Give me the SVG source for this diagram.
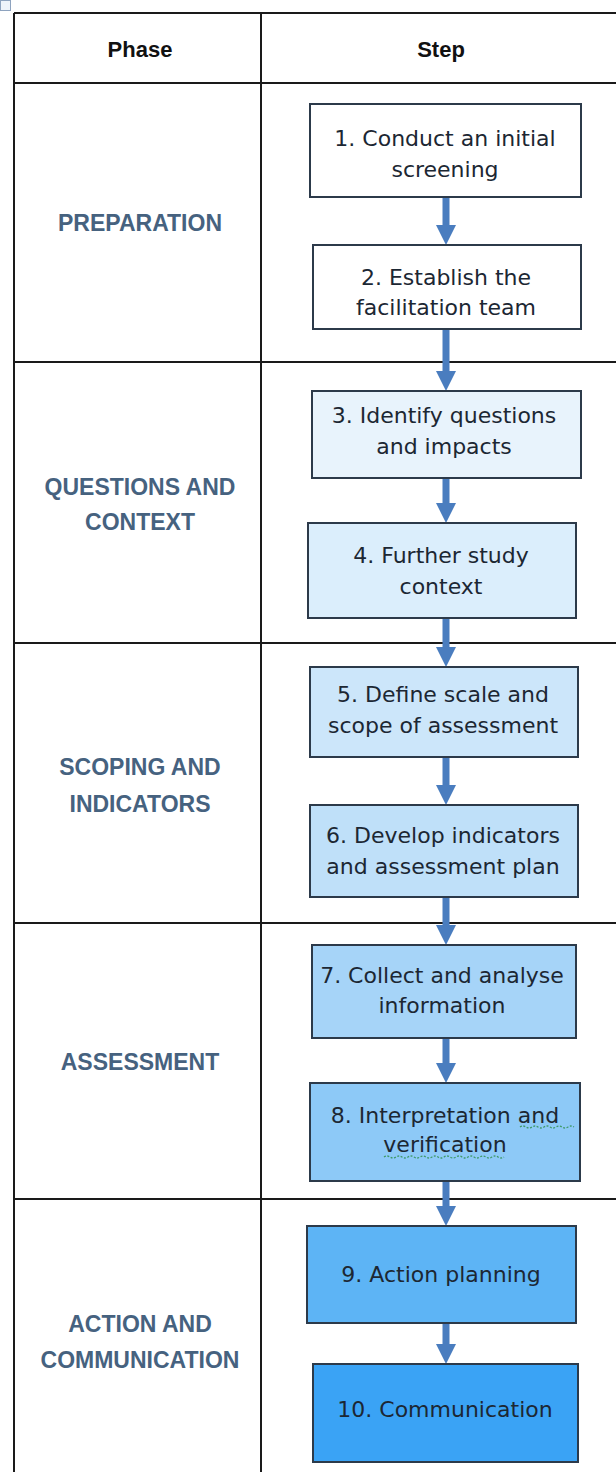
<svg xmlns="http://www.w3.org/2000/svg" width="616" height="1472" viewBox="0 0 616 1472">
  <style>
    .grid { stroke: #1a1a1a; stroke-width: 2; fill: none; }
    .hdr { font-family: "Liberation Sans", Arial, sans-serif; font-weight: bold; font-size: 22px; fill: #111111; text-anchor: middle; }
    .phase { font-family: "Liberation Sans", Arial, sans-serif; font-weight: bold; font-size: 23px; fill: #46627f; text-anchor: middle; }
    .box { stroke: #2c3a4a; stroke-width: 2; }
    .lbl { font-family: "DejaVu Sans", Verdana, sans-serif; font-size: 22px; fill: #1c2733; text-anchor: middle; }
    .conn { stroke: #4a7dbf; stroke-width: 7; fill: none; }
    .squig { stroke: #3f9a6a; stroke-width: 1.3; fill: none; stroke-dasharray: 2 1.5; }
  </style>
  <defs>
    <marker id="ah" markerUnits="userSpaceOnUse" markerWidth="20" markerHeight="20" refX="1" refY="10" orient="auto">
      <path d="M0,0 L20,10 L0,20 z" fill="#4a7dbf"/>
    </marker>
  </defs>
  <rect x="0" y="0" width="616" height="1472" fill="#ffffff"/>

  <g id="move-handle">
    <rect x="0.5" y="0.5" width="10" height="10" fill="#eef3fa" stroke="#8ea3bf" stroke-width="1"/>
  </g>

  <g id="table">
    <path class="grid" d="M14,13 H616 M14,83 H616 M14,362 H616 M14,643 H616 M14,923 H616 M14,1199 H616 M14,13 V1472 M261,13 V1472"/>
    <text class="hdr" x="140" y="57">Phase</text>
    <text class="hdr" x="441" y="57">Step</text>
  </g>

  <g id="phase-preparation"><text class="phase" x="140" y="231">PREPARATION</text></g>
  <g id="phase-questions"><text class="phase" x="140" y="495">QUESTIONS AND</text><text class="phase" x="140" y="530">CONTEXT</text></g>
  <g id="phase-scoping"><text class="phase" x="140" y="775">SCOPING AND</text><text class="phase" x="140" y="812">INDICATORS</text></g>
  <g id="phase-assessment"><text class="phase" x="140" y="1070">ASSESSMENT</text></g>
  <g id="phase-action"><text class="phase" x="140" y="1332">ACTION AND</text><text class="phase" x="140" y="1368">COMMUNICATION</text></g>

  <g id="connectors">
    <line class="conn" x1="446" y1="197" x2="446" y2="226" marker-end="url(#ah)"/>
    <line class="conn" x1="446" y1="329" x2="446" y2="372" marker-end="url(#ah)"/>
    <line class="conn" x1="446" y1="478" x2="446" y2="504" marker-end="url(#ah)"/>
    <line class="conn" x1="446" y1="618" x2="446" y2="648" marker-end="url(#ah)"/>
    <line class="conn" x1="446" y1="757" x2="446" y2="786" marker-end="url(#ah)"/>
    <line class="conn" x1="446" y1="897" x2="446" y2="926" marker-end="url(#ah)"/>
    <line class="conn" x1="446" y1="1038" x2="446" y2="1064" marker-end="url(#ah)"/>
    <line class="conn" x1="446" y1="1181" x2="446" y2="1207" marker-end="url(#ah)"/>
    <line class="conn" x1="446" y1="1323" x2="446" y2="1345" marker-end="url(#ah)"/>
  </g>

  <g id="step1">
    <rect class="box" x="310" y="104" width="271" height="93" fill="#ffffff"/>
    <text class="lbl" x="445" y="146">1. Conduct an initial</text>
    <text class="lbl" x="445" y="177">screening</text>
  </g>
  <g id="step2">
    <rect class="box" x="313" y="245" width="268" height="84" fill="#ffffff"/>
    <text class="lbl" x="446" y="285">2. Establish the</text>
    <text class="lbl" x="446" y="315">facilitation team</text>
  </g>
  <g id="step3">
    <rect class="box" x="312" y="391" width="269" height="87" fill="#e8f3fc"/>
    <text class="lbl" x="444" y="423">3. Identify questions</text>
    <text class="lbl" x="444" y="454">and impacts</text>
  </g>
  <g id="step4">
    <rect class="box" x="308" y="523" width="268" height="95" fill="#dbeefc"/>
    <text class="lbl" x="441" y="563">4. Further study</text>
    <text class="lbl" x="441" y="594">context</text>
  </g>
  <g id="step5">
    <rect class="box" x="310" y="667" width="268" height="90" fill="#cce6fa"/>
    <text class="lbl" x="443" y="702">5. Define scale and</text>
    <text class="lbl" x="443" y="733">scope of assessment</text>
  </g>
  <g id="step6">
    <rect class="box" x="310" y="805" width="268" height="92" fill="#bfe0f9"/>
    <text class="lbl" x="443" y="843">6. Develop indicators</text>
    <text class="lbl" x="443" y="874">and assessment plan</text>
  </g>
  <g id="step7">
    <rect class="box" x="312" y="945" width="264" height="93" fill="#a6d4f8"/>
    <text class="lbl" x="442" y="983">7. Collect and analyse</text>
    <text class="lbl" x="442" y="1013">information</text>
  </g>
  <g id="step8">
    <rect class="box" x="310" y="1083" width="270" height="98" fill="#8dc9f7"/>
    <text class="lbl" x="445" y="1123">8. Interpretation and</text>
    <text class="lbl" x="445" y="1152">verification</text>
    <path class="squig" d="M520,1127 q3,-2 6,0 t6,0 t6,0 t6,0 t6,0 t6,0 t6,0 t6,0 t6,0"/>
    <path class="squig" d="M384,1157 q3,-2 6,0 t6,0 t6,0 t6,0 t6,0 t6,0 t6,0 t6,0 t6,0 t6,0 t6,0 t6,0 t6,0 t6,0 t6,0 t6,0 t6,0 t6,0 t6,0 t6,0"/>
  </g>
  <g id="step9">
    <rect class="box" x="307" y="1226" width="269" height="97" fill="#5db4f5"/>
    <text class="lbl" x="441" y="1282">9. Action planning</text>
  </g>
  <g id="step10">
    <rect class="box" x="313" y="1364" width="265" height="98" fill="#3aa3f5"/>
    <text class="lbl" x="445" y="1417">10. Communication</text>
  </g>
</svg>
